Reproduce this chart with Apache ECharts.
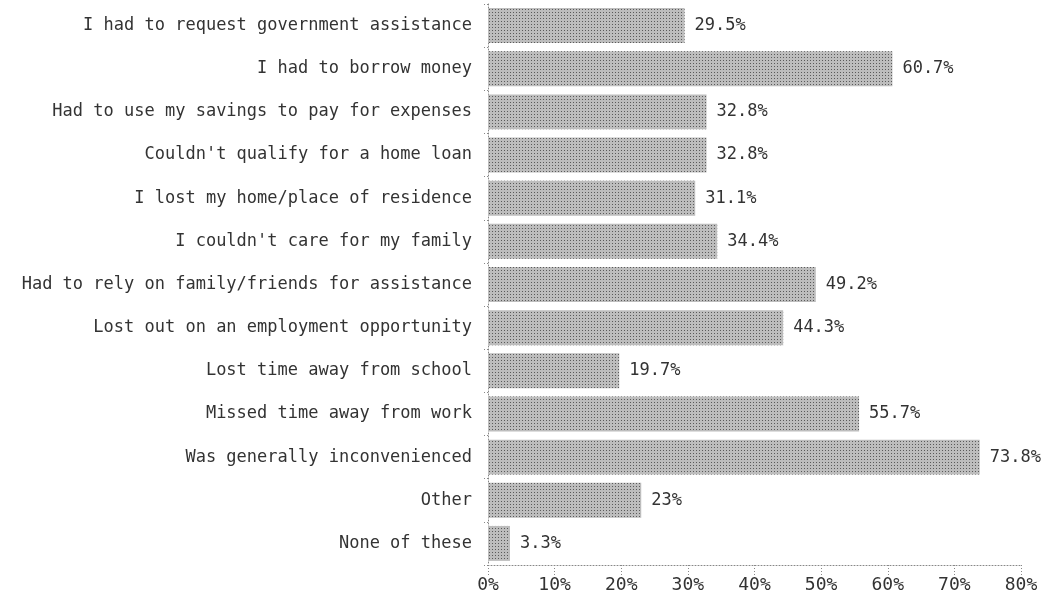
<!DOCTYPE html>
<html>
<head>
<meta charset="utf-8">
<script src="https://cdn.jsdelivr.net/npm/echarts@6/dist/echarts.min.js"></script>
<style>
  html, body { margin: 0; padding: 0; background: #fff; }
  #chart { width: 1044px; height: 603px; }
</style>
</head>
<body>
<div id="chart"></div>
<script>
// categories, top to bottom
var categories = [
  'I had to request government assistance',
  'I had to borrow money',
  'Had to use my savings to pay for expenses',
  "Couldn't qualify for a home loan",
  'I lost my home/place of residence',
  "I couldn't care for my family",
  'Had to rely on family/friends for assistance',
  'Lost out on an employment opportunity',
  'Lost time away from school',
  'Missed time away from work',
  'Was generally inconvenienced',
  'Other',
  'None of these'
]
var values = [29.5, 60.7, 32.8, 32.8, 31.1, 34.4, 49.2, 44.3, 19.7, 55.7, 73.8, 23, 3.3]
var xTicks = [0, 10, 20, 30, 40, 50, 60, 70, 80]

var chart = echarts.init(document.getElementById('chart'))

var dotted = { color: '#888', type: [1, 2], width: 1 }
var font = 'DejaVu Sans Mono'

chart.setOption({
  animation: false,
  grid: {
    left: 488,
    right: 23,
    top: 4,
    bottom: 38,
    containLabel: false
  },
  xAxis: {
    type: 'value',
    min: xTicks[0],
    max: xTicks[xTicks.length - 1],
    interval: 10,
    axisLine: { show: true, lineStyle: dotted },
    axisTick: { show: true, length: 10, lineStyle: dotted },
    splitLine: { show: false },
    axisLabel: {
      formatter: '{value}%',
      color: '#333',
      fontSize: 18,
      fontFamily: font,
      margin: 11
    }
  },
  yAxis: {
    type: 'category',
    inverse: true,
    data: categories,
    axisLine: { show: true, lineStyle: dotted },
    axisTick: { show: true, length: 4, lineStyle: dotted },
    axisLabel: {
      color: '#333',
      fontSize: 17,
      fontFamily: font,
      margin: 16
    }
  },
  series: [{
    type: 'bar',
    data: values,
    barCategoryGap: '19%',
    itemStyle: {
      color: '#bdbdbd',
      decal: {
        symbol: 'rect',
        symbolSize: 1,
        dashArrayX: [1, 2],
        dashArrayY: [1, 2],
        rotation: 0,
        color: '#5a5a5a'
      }
    },
    label: {
      show: true,
      position: 'right',
      distance: 10,
      formatter: '{c}%',
      color: '#333',
      fontSize: 17,
      fontFamily: font
    }
  }]
})
</script>
</body>
</html>
